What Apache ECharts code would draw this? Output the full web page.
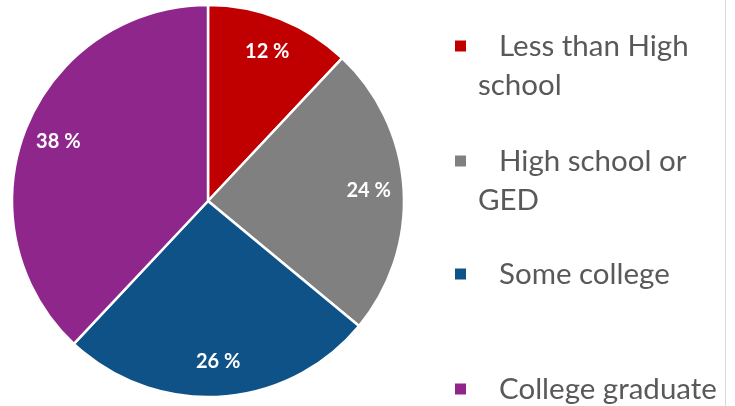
<!DOCTYPE html>
<html>
<head>
<meta charset="utf-8">
<script src="https://cdn.jsdelivr.net/npm/echarts@6/dist/echarts.min.js"></script>
<style>
  html, body { margin: 0; padding: 0; background: #fff; }
  #chart { width: 735px; height: 406px; }
</style>
</head>
<body>
<div id="chart"></div>
<script>
// education levels, share in percent
const categories = ["Less than High school", "High school or GED", "Some college", "College graduate"];
const shares = [12, 24, 26, 38];
const colors = ["#C00000", "#808080", "#0F5288", "#8F268C"];
// how each legend entry wraps in the reference
const legendLines = [["Less than High", "school"], ["High school or", "GED"], ["Some college"], ["College graduate"]];

const chart = echarts.init(document.getElementById("chart"));

const pieData = categories.map((name, i) => ({
  name: name,
  value: shares[i],
  itemStyle: { color: colors[i] }
}));

// icon centres of the legend entries
const legendY = [46, 161, 274, 389];
const LINE_H = 39;

const legends = categories.map((name, i) => {
  const lines = legendLines[i];
  const twoLine = lines.length > 1;
  const h = twoLine ? LINE_H * 3 : LINE_H;
  return {
    data: [name],
    orient: "vertical",
    left: 453,
    top: legendY[i] - h / 2,
    padding: 0,
    icon: "rect",
    itemWidth: 13,
    itemHeight: 13,
    selectedMode: false,
    formatter: () => "{s|}" + lines.join("\n"),
    textStyle: {
      fontFamily: "Lato",
      fontSize: 29.5,
      color: "#595959",
      lineHeight: LINE_H,
      padding: [twoLine ? LINE_H : 0, 0, 0, 6],
      rich: { s: { width: 21 } }
    }
  };
});

chart.setOption({
  animation: false,
  legend: legends,
  graphic: [{
    type: "line",
    shape: { x1: 725.5, y1: 0, x2: 725.5, y2: 406 },
    style: { stroke: "#D9D9D9", lineWidth: 1 }
  }],
  series: [
    {
      type: "pie",
      center: [208, 201],
      radius: [0, 196],
      startAngle: 90,
      clockwise: true,
      silent: true,
      label: { show: false },
      labelLine: { show: false },
      itemStyle: { borderColor: "#fff", borderWidth: 2.5 },
      data: pieData
    },
    {
      // transparent ring, only used to place the value labels
      type: "pie",
      center: [208, 201],
      radius: [120, 196],
      startAngle: 90,
      clockwise: true,
      silent: true,
      itemStyle: { color: "transparent" },
      label: {
        show: true,
        position: "inside",
        formatter: "{c} %",
        color: "#fff",
        fontFamily: "Lato",
        fontWeight: "bold",
        fontSize: 20
      },
      labelLine: { show: false },
      data: categories.map((name, i) => ({ name: name, value: shares[i] }))
    }
  ]
});
</script>
</body>
</html>
